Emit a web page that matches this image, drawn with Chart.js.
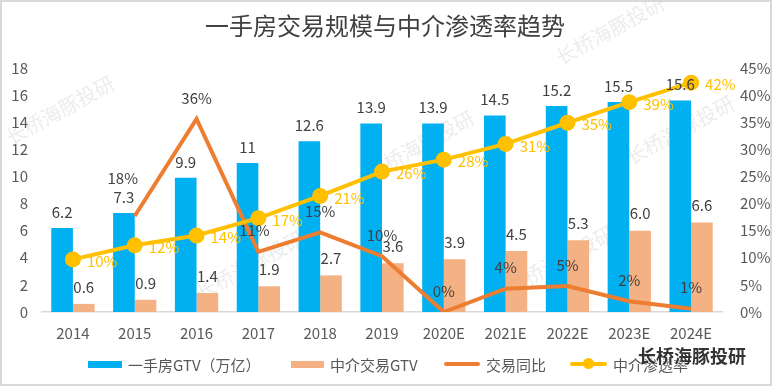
<!DOCTYPE html>
<html><head><meta charset="utf-8">
<script src="https://cdn.jsdelivr.net/npm/chart.js@4"></script>
<style>
html,body{margin:0;padding:0;background:#fff;}
#wrap{position:relative;width:772px;height:386px;box-sizing:border-box;border:2px solid #d9d9d9;overflow:hidden;}
canvas{position:absolute;left:-2px;top:-2px;}
#legend{position:absolute;left:0;top:0;width:772px;height:386px;font-family:"Noto Sans CJK SC","Noto Sans",sans-serif;font-size:15px;color:#595959;white-space:nowrap;pointer-events:none;}
.it{position:absolute;top:350px;height:24px;display:flex;align-items:center;}
.sw{display:inline-block;margin-right:6px;}
#wm{position:absolute;left:636px;top:340px;font-family:"Noto Sans CJK SC",sans-serif;font-size:18px;font-weight:bold;color:#333;text-shadow:0 0 2px #fff,0 0 2px #fff;}
</style></head>
<body><div id="wrap"><canvas id="c" width="772" height="386"></canvas>
<div id="legend"></div><div id="wm">长桥海豚投研</div></div>
<script>
const categories = ['2014','2015','2016','2017','2018','2019','2020E','2021E','2022E','2023E','2024E'];
const gtvNew = [6.2, 7.3, 9.9, 11, 12.6, 13.9, 13.9, 14.5, 15.2, 15.5, 15.6];
const gtvAgency = [0.6, 0.9, 1.4, 1.9, 2.7, 3.6, 3.9, 4.5, 5.3, 6.0, 6.6];
const growth = [null, 0.177, 0.356, 0.111, 0.147, 0.103, 0.0, 0.043, 0.048, 0.02, 0.006];
const penetration = [0.097, 0.123, 0.141, 0.173, 0.214, 0.259, 0.281, 0.31, 0.349, 0.387, 0.423];
const leftTicks = {min:0, max:18, step:2};
const rightTicks = {min:0, max:0.45, step:0.05};

const BLUE='#00B0F0', PEACH='#F4B183', ORANGE='#ED7D31', YELLOW='#FFC000';
const FONT='"Noto Sans CJK SC","Noto Sans",sans-serif';

const labelPlugin = {
  id:'labels',
  beforeDraw(chart){
    const ctx=chart.ctx;
    ctx.save();
    ctx.font='400 24px '+FONT;
    ctx.fillStyle='#404040';
    ctx.textAlign='center';ctx.textBaseline='middle';
    ctx.fillText('一手房交易规模与中介渗透率趋势',385,26);
    // faint watermarks
    ctx.font='20px '+FONT;
    ctx.fillStyle='rgba(200,200,200,0.35)';
    [[60,110],[610,30],[250,265],[420,145],[560,260],[680,130]].forEach(p=>{
      ctx.save();ctx.translate(p[0],p[1]);ctx.rotate(-0.5);ctx.fillText('长桥海豚投研',0,0);ctx.restore();
    });
    ctx.restore();
  },
  afterDatasetsDraw(chart){
    const ctx=chart.ctx;
    ctx.save();
    ctx.font='15px '+FONT;
    ctx.textBaseline='middle';
    const m0=chart.getDatasetMeta(0), m1=chart.getDatasetMeta(1), m2=chart.getDatasetMeta(2), m3=chart.getDatasetMeta(3);
    ctx.fillStyle='#404040';ctx.textAlign='center';
    m0.data.forEach((el,i)=>ctx.fillText(String(gtvNew[i]),el.x,el.y-16));
    m1.data.forEach((el,i)=>ctx.fillText(gtvAgency[i].toFixed(1),el.x,el.y-17));
    m2.data.forEach((el,i)=>{
      if(growth[i]===null) return;
      let dx=0, dy=-21;
      if(i===1){dx=-12;dy=-38;}
      if(i===3){dx=-4;dy=-22;}
      ctx.fillText(Math.round(growth[i]*100)+'%',el.x+dx,el.y+dy);
    });
    ctx.fillStyle=YELLOW;ctx.textAlign='left';
    m3.data.forEach((el,i)=>ctx.fillText(Math.round(penetration[i]*100)+'%',el.x+14,el.y+2));
    ctx.restore();
  }
};

new Chart(document.getElementById('c'),{
  data:{labels:categories,datasets:[
    {type:'bar',label:'一手房GTV（万亿）',data:gtvNew,backgroundColor:BLUE,yAxisID:'y',order:3,categoryPercentage:0.7,barPercentage:1.0},
    {type:'bar',label:'中介交易GTV',data:gtvAgency,backgroundColor:PEACH,yAxisID:'y',order:3,categoryPercentage:0.7,barPercentage:1.0},
    {type:'line',label:'交易同比',data:growth,borderColor:ORANGE,backgroundColor:ORANGE,borderWidth:4,pointRadius:0,tension:0,yAxisID:'y1',order:2,spanGaps:false},
    {type:'line',label:'中介渗透率',data:penetration,borderColor:YELLOW,backgroundColor:YELLOW,borderWidth:4,pointRadius:6,pointBackgroundColor:YELLOW,pointBorderColor:YELLOW,tension:0,yAxisID:'y1',order:1}
  ]},
  options:{
    responsive:false,animation:false,
    layout:{padding:{top:68,bottom:44,left:0,right:0}},
    plugins:{legend:{display:false},title:{display:false},tooltip:{enabled:false}},
    scales:{
      x:{grid:{display:false},border:{color:'#d9d9d9',width:1.5},
         ticks:{color:'#595959',font:{family:FONT,size:15},padding:4,maxRotation:0},
         afterFit(s){s.height=30;}},
      y:{position:'left',min:leftTicks.min,max:leftTicks.max,grid:{display:false},border:{display:false},
         ticks:{stepSize:leftTicks.step,color:'#595959',font:{family:FONT,size:15},padding:6},
         afterFit(s){s.width=42;}},
      y1:{position:'right',min:rightTicks.min,max:rightTicks.max,grid:{display:false},border:{display:false},
         ticks:{stepSize:rightTicks.step,color:'#595959',font:{family:FONT,size:15},padding:10,
           callback:v=>Math.round(v*100)+'%'},
         afterFit(s){s.width=50;}}
    }
  },
  plugins:[labelPlugin]
});

// HTML legend
const leg=document.getElementById('legend');
const items=[
  {x:86,t:'一手房GTV（万亿）',sw:'<span class="sw" style="width:34px;height:7px;background:'+BLUE+'"></span>'},
  {x:289,t:'中介交易GTV',sw:'<span class="sw" style="width:33px;height:7px;background:'+PEACH+'"></span>'},
  {x:442,t:'交易同比',sw:'<span class="sw" style="width:36px;height:4px;border-radius:2px;background:'+ORANGE+'"></span>'},
  {x:568,t:'中介渗透率',sw:'<span class="sw" style="position:relative;width:37px;height:4px;border-radius:2px;background:'+YELLOW+'"><span style="position:absolute;left:13px;top:-4px;width:11px;height:11px;border-radius:50%;background:'+YELLOW+'"></span></span>'}
];
leg.innerHTML=items.map(o=>'<span class="it" style="left:'+o.x+'px">'+o.sw+'<span>'+o.t+'</span></span>').join('');
</script>
</body></html>
